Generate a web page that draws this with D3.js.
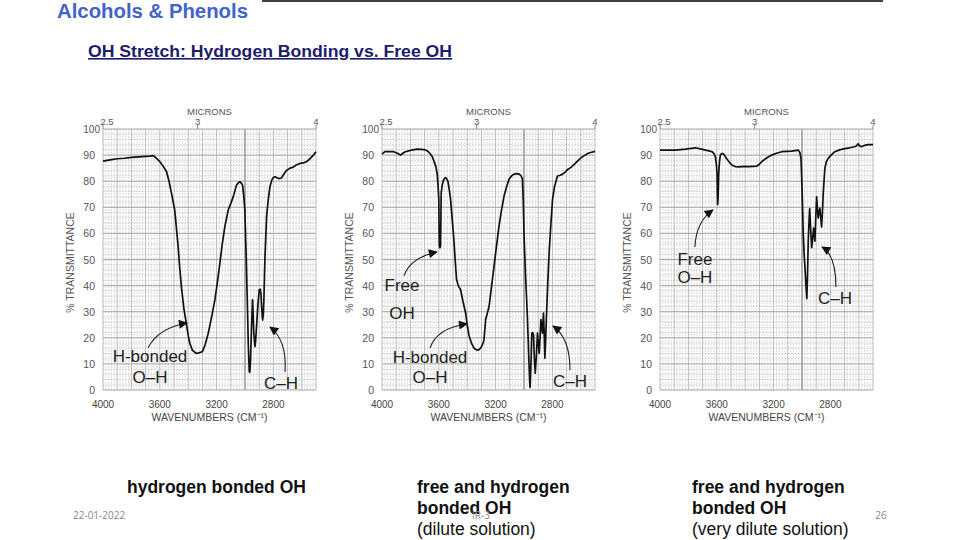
<!DOCTYPE html>
<html>
<head>
<meta charset="utf-8">
<script src="https://cdn.jsdelivr.net/npm/d3@7"></script>
<style>
  body { margin: 0; background: #fff; }
  svg { display: block; font-family: "Liberation Sans", Arial, sans-serif; }
</style>
</head>
<body>
<script>
// spectra: [wavenumber (cm-1), % transmittance]
const hBondedSpectrum = [
  [4000,87.7],[3950,88.2],[3900,88.6],[3850,88.8],[3800,89.1],[3750,89.3],[3700,89.5],[3671,89.6],
  [3650,89.8],[3636,89.4],[3620,88.6],[3600,87.5],[3575,85.6],[3553,83.7],[3535,80],[3518,75.4],
  [3495,69],[3483,62],[3471,55],[3460,47],[3448,39.6],[3430,31],[3417,26.8],[3400,21],[3389,17.9],
  [3370,15.2],[3342,14],[3320,14.3],[3300,14.7],[3280,17.5],[3259,21.7],[3235,28],[3212,34.5],
  [3195,41],[3177,48.5],[3160,56],[3142,62.6],[3118,69],[3100,71.5],[3083,74],[3060,78.5],
  [3045,79.5],[3036,79.8],[3025,79.2],[3017,78.5],[3008,74],[3001,69],[2992,52],[2984,34.5],
  [2977,18],[2970,7],[2966,6.8],[2961,11.5],[2954,24],[2947,34.5],[2943,30],[2938,22],[2930,16.6],
  [2925,19],[2919,24],[2910,32],[2900,38.3],[2893,38.6],[2888,37],[2882,31],[2876,26.8],[2871,29],
  [2867,34.5],[2860,49.8],[2854,58],[2848,66.4],[2836,73],[2824,78],[2810,80.6],[2800,81.4],
  [2789,81.7],[2770,81.2],[2754,81],[2742,81.3],[2730,82.4],[2710,84],[2683,85],[2660,85.4],
  [2640,86.2],[2613,86.8],[2590,87],[2570,87.4],[2554,88],[2530,89.3],[2515,90.2],[2500,91.3]
];
const freeAndBondedSpectrum = [
  [4000,90.4],[3980,91.3],[3950,91.3],[3918,91.3],[3895,90.8],[3870,90],[3850,90.8],[3835,91.3],
  [3800,91.8],[3753,92.3],[3720,92.2],[3694,92],[3675,91.4],[3659,90.4],[3647,89.5],[3635,87.8],
  [3620,85.5],[3611,82.7],[3605,78],[3600,73],[3598,62],[3596,55],[3592,54.5],[3588,55],[3585,66],
  [3583,75.6],[3576,78.5],[3569,80],[3561,81],[3553,81.4],[3545,81],[3536,80],[3527,77],[3517,73],
  [3505,65],[3494,57.7],[3485,50],[3475,42.3],[3462,39.8],[3447,38.5],[3430,34],[3411,29.5],
  [3400,25],[3388,21],[3370,18],[3352,16],[3335,15.4],[3317,15.4],[3300,16.5],[3288,18],
  [3282,19.2],[3276,23],[3270,27],[3258,29.5],[3246,32],[3230,39],[3211,47.4],[3194,55],
  [3176,62.8],[3158,69],[3140,74.4],[3122,78],[3105,80.8],[3088,82],[3070,82.7],[3050,82.9],
  [3034,82.7],[3020,82],[3011,80.8],[3005,72],[3000,60],[2990,45],[2976,28],[2966,12],[2960,3],
  [2957,1],[2951,10],[2945,21.8],[2939,22],[2933,21.2],[2927,12],[2921,6.4],[2913,13],[2905,21.8],
  [2899,18],[2893,14],[2887,20],[2881,27],[2876,25],[2870,21.8],[2863,29.5],[2858,22],[2853,12.2],
  [2847,20],[2841,29.5],[2832,42],[2822,53.8],[2810,64],[2799,73],[2785,78],[2764,82],[2745,82.3],
  [2728,82.7],[2710,83.5],[2690,84.6],[2669,85.3],[2645,86.5],[2622,87.8],[2610,88.3],[2599,89],
  [2575,89.8],[2552,90.6],[2530,91],[2500,91.4]
];
const veryDiluteSpectrum = [
  [4000,91.9],[3950,91.9],[3890,91.9],[3820,92.3],[3750,92.8],[3715,92.4],[3680,91.9],[3655,91.6],
  [3633,91.3],[3620,90.6],[3610,89.4],[3602,86],[3598,82.4],[3596,76],[3594,71],[3591,74],
  [3587,82.4],[3581,87.5],[3575,90],[3566,90.6],[3558,90.6],[3548,90.2],[3540,89.4],[3522,88],
  [3505,86.8],[3488,86],[3470,85.6],[3440,85.5],[3410,85.7],[3376,85.6],[3345,85.7],[3318,85.8],
  [3300,86.5],[3283,87.5],[3250,88.9],[3213,90],[3180,90.7],[3143,91.3],[3110,91.4],[3073,91.5],
  [3050,91.7],[3026,91.9],[3015,91],[3007,88.7],[2999,76],[2991,59.6],[2985,52],[2979,46.9],
  [2972,40],[2966,35],[2962,42],[2956,57],[2950,65],[2946,69.5],[2940,63],[2932,54.5],[2925,58],
  [2918,62],[2913,60],[2909,57],[2903,66],[2897,74],[2892,70],[2886,65.9],[2880,68],[2874,69.7],
  [2868,66],[2862,62.5],[2856,68],[2851,74.8],[2845,80],[2839,85],[2828,87.5],[2816,88.7],
  [2795,90],[2769,91.3],[2735,92],[2699,92.5],[2665,92.8],[2629,93.2],[2615,93.6],[2605,94.4],
  [2595,93.6],[2582,93.2],[2560,93.7],[2535,94],[2515,94],[2500,94]
];

const yTicks = [0, 10, 20, 30, 40, 50, 60, 70, 80, 90];
const xTicks = [4000, 3600, 3200, 2800];
const micronTicks = [2.5, 3, 4];

// callout labels, in data units of each panel
const labels = [
  [{text: "H-bonded", w: 3669, t: 13}, {text: "O\u2013H", w: 3669, t: 5}, {text: "C\u2013H", w: 2746, t: 2.7}],
  [{text: "Free", w: 3859, t: 40.2}, {text: "OH", w: 3859, t: 29.5}, {text: "H-bonded", w: 3662, t: 12.6},
   {text: "O\u2013H", w: 3662, t: 5}, {text: "C\u2013H", w: 2676, t: 3.4}],
  [{text: "Free", w: 3754, t: 50.2}, {text: "O\u2013H", w: 3754, t: 43.3}, {text: "C\u2013H", w: 2768, t: 35.2}]
];
// arrows: start, control, end in data units [w, t]
const arrows = [
  [[[3683,16.1],[3613,23.8],[3408,25.7]], [[2718,6.9],[2704,19.2],[2824,24.1]]],
  [[[3845,43.7],[3803,50.6],[3613,52.9]], [[3662,16.1],[3613,23.8],[3401,25.3]], [[2676,7.7],[2676,19.9],[2796,24.5]]],
  [[[3754,54.8],[3747,64.4],[3627,69]], [[2761,39.5],[2761,51.7],[2859,54.8]]]
];

const captions = [
  [{text: "hydrogen bonded OH", bold: true}],
  [{text: "free and hydrogen", bold: true}, {text: "bonded OH", bold: true}, {text: "(dilute solution)", bold: false}],
  [{text: "free and hydrogen", bold: true}, {text: "bonded OH", bold: true}, {text: "(very dilute solution)", bold: false}]
];

const spectra = [hBondedSpectrum, freeAndBondedSpectrum, veryDiluteSpectrum];

const W = 960, H = 540;
const panelLeft = [103, 382, 660];
const panelW = 213, panelTop = 129, panelH = 261;
const captionX = [127, 417, 692];

const svg = d3.select("body").append("svg")
  .attr("width", W).attr("height", H)
  .attr("viewBox", `0 0 ${W} ${H}`);

svg.append("defs").append("marker")
  .attr("id", "head")
  .attr("viewBox", "0 0 10 10")
  .attr("refX", 9).attr("refY", 5)
  .attr("markerWidth", 11).attr("markerHeight", 9)
  .attr("markerUnits", "userSpaceOnUse")
  .attr("orient", "auto")
  .append("path").attr("d", "M0,0 L10,5 L0,10 Z").attr("fill", "#111");

// header
svg.append("line").attr("x1", 262).attr("x2", 883).attr("y1", 1).attr("y2", 1)
  .attr("stroke", "#000").attr("stroke-width", 1.3);
svg.append("text").attr("x", 57).attr("y", 18)
  .attr("font-size", 20).attr("font-weight", "bold").attr("fill", "#4262cc")
  .attr("textLength", 191).attr("lengthAdjust", "spacingAndGlyphs")
  .text("Alcohols & Phenols");
svg.append("text").attr("x", 88).attr("y", 57)
  .attr("font-size", 16).attr("font-weight", "bold").attr("fill", "#1c1c6a")
  .attr("text-decoration", "underline")
  .attr("textLength", 364).attr("lengthAdjust", "spacingAndGlyphs")
  .text("OH Stretch: Hydrogen Bonding vs. Free OH");

spectra.forEach((data, i) => {
  const x = d3.scaleLinear().domain([4000, 2500]).range([0, panelW]);
  const y = d3.scaleLinear().domain([0, 100]).range([panelH, 0]);
  const g = svg.append("g").attr("transform", `translate(${panelLeft[i]},${panelTop})`);

  // chart-paper grid
  const grid = g.append("g");
  grid.selectAll("line.hmin").data(d3.range(0, 101, 2).filter(v => v % 10))
    .join("line").attr("x1", 0).attr("x2", panelW)
    .attr("y1", d => y(d)).attr("y2", d => y(d))
    .attr("stroke", "#c4c4c4").attr("stroke-width", 0.7).attr("stroke-dasharray", "2,1.2");
  grid.selectAll("line.vmin").data(d3.range(2500, 4001, 20).filter(v => v % 100))
    .join("line").attr("y1", 0).attr("y2", panelH)
    .attr("x1", d => x(d)).attr("x2", d => x(d))
    .attr("stroke", "#c4c4c4").attr("stroke-width", 0.7).attr("stroke-dasharray", "2,1.2");
  grid.selectAll("line.vmaj").data(d3.range(2500, 4001, 100))
    .join("line").attr("y1", 0).attr("y2", panelH)
    .attr("x1", d => x(d)).attr("x2", d => x(d))
    .attr("stroke", d => d === 3000 ? "#6e6e6e" : "#a8a8a8").attr("stroke-width", d => d === 3000 ? 1.1 : 0.8);
  grid.selectAll("line.hmaj").data(d3.range(0, 101, 10))
    .join("line").attr("x1", 0).attr("x2", panelW)
    .attr("y1", d => y(d)).attr("y2", d => y(d))
    .attr("stroke", "#9c9c9c").attr("stroke-width", 0.9);

  // y axis labels
  g.selectAll("text.yt").data(yTicks).join("text")
    .attr("x", -8).attr("y", d => y(d) + 4)
    .attr("text-anchor", "end").attr("font-size", 10.5).attr("fill", "#555")
    .text(d => d);
  g.append("text").attr("x", -3).attr("y", y(100) + 4)
    .attr("text-anchor", "end").attr("font-size", 10).attr("fill", "#555").text("100");
  g.append("text")
    .attr("transform", `translate(-29,${panelH / 2 + 3}) rotate(-90)`)
    .attr("text-anchor", "middle").attr("font-size", 10.5).attr("fill", "#555")
    .text("% TRANSMITTANCE");

  // x axis labels
  g.selectAll("text.xt").data(xTicks).join("text")
    .attr("x", d => x(d)).attr("y", panelH + 18)
    .attr("text-anchor", "middle").attr("font-size", 10).attr("fill", "#444")
    .text(d => d);
  g.append("text").attr("x", panelW / 2).attr("y", panelH + 31)
    .attr("text-anchor", "middle").attr("font-size", 10.5).attr("fill", "#444")
    .text("WAVENUMBERS (CM\u207B\u00B9)");

  // microns on top
  g.selectAll("line.mt").data(micronTicks).join("line")
    .attr("x1", d => x(1e4 / d)).attr("x2", d => x(1e4 / d))
    .attr("y1", -4).attr("y2", 0).attr("stroke", "#666").attr("stroke-width", 0.8);
  g.selectAll("text.mt").data(micronTicks).join("text")
    .attr("x", d => x(1e4 / d) + (d === 2.5 ? 4 : 0)).attr("y", -4)
    .attr("text-anchor", "middle").attr("font-size", 9.5).attr("fill", "#555")
    .text(d => d);
  g.append("text").attr("x", panelW / 2).attr("y", -14)
    .attr("text-anchor", "middle").attr("font-size", 9.5).attr("fill", "#555")
    .text("MICRONS");

  // spectrum trace
  const line = d3.line().x(d => x(d[0])).y(d => y(d[1]));
  g.append("path").datum(data)
    .attr("d", line).attr("fill", "none")
    .attr("stroke", "#111").attr("stroke-width", 1.7).attr("stroke-linejoin", "round");

  // callouts
  g.selectAll("path.arrow").data(arrows[i]).join("path")
    .attr("d", d => {
      const p = d3.path();
      p.moveTo(x(d[0][0]), y(d[0][1]));
      p.quadraticCurveTo(x(d[1][0]), y(d[1][1]), x(d[2][0]), y(d[2][1]));
      return p.toString();
    })
    .attr("fill", "none").attr("stroke", "#222").attr("stroke-width", 1.1)
    .attr("marker-end", "url(#head)");
  g.selectAll("text.lab").data(labels[i]).join("text")
    .attr("x", d => x(d.w)).attr("y", d => y(d.t) + 6)
    .attr("text-anchor", "middle").attr("font-size", 17).attr("fill", "#222")
    .text(d => d.text);

  // caption below
  svg.append("g").selectAll("text").data(captions[i]).join("text")
    .attr("x", captionX[i]).attr("y", (d, k) => 493 + k * 21)
    .attr("font-size", 17.5).attr("font-weight", d => d.bold ? "bold" : "normal")
    .attr("fill", "#111")
    .text(d => d.text);
});

// slide footer (the slide number sits under the middle caption, as on the slide)
const footer = svg.append("g").attr("font-family", "'Open Sans', sans-serif")
  .attr("font-size", 10).attr("fill", "#888");
footer.append("text").attr("x", 73).attr("y", 519).text("22-01-2022");
footer.append("text").attr("x", 481).attr("y", 519).attr("text-anchor", "middle").text("IR-3");
footer.append("text").attr("x", 881).attr("y", 519).attr("text-anchor", "middle").text("26");
</script>
</body>
</html>
